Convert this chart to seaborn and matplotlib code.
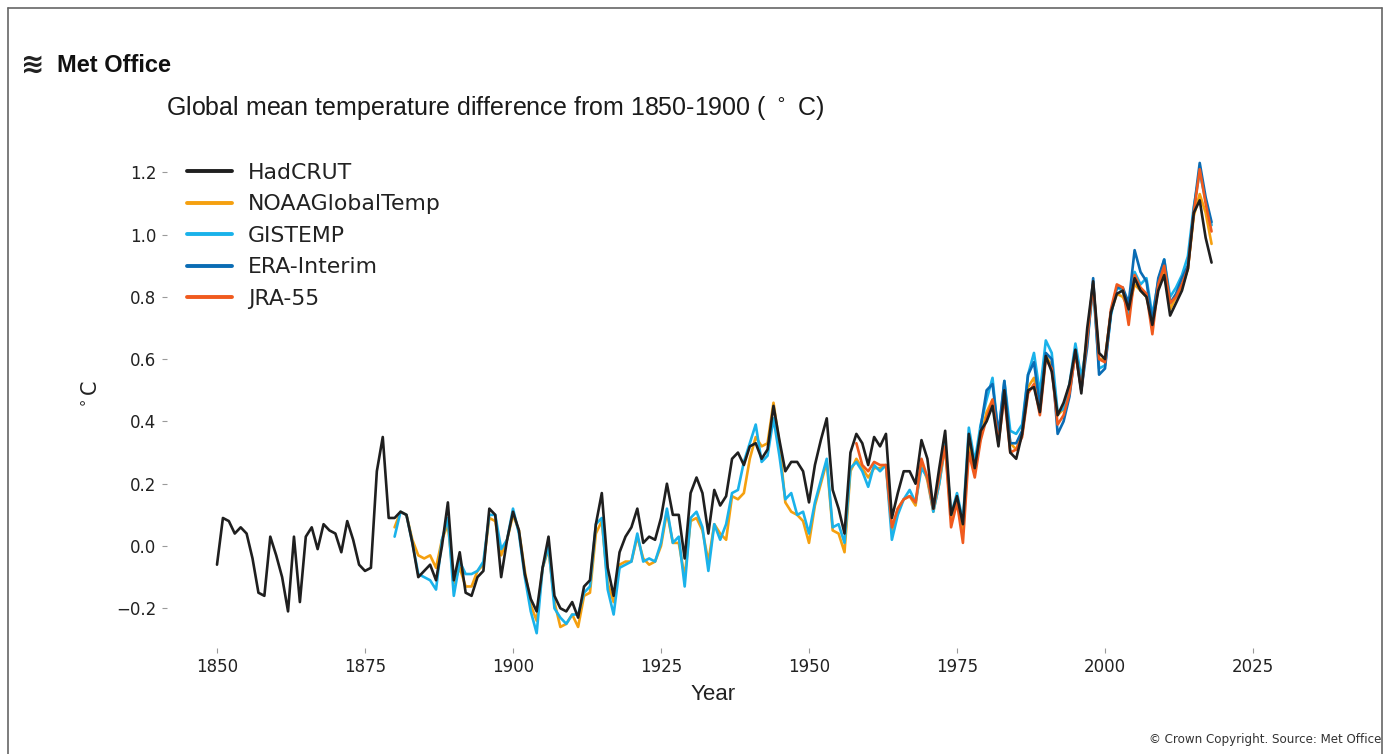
import numpy as np
import pandas as pd
import matplotlib
matplotlib.use("Agg")
import matplotlib.pyplot as plt
import seaborn as sns
from matplotlib.lines import Line2D

# ---------------- data (anomaly vs 1850-1900, deg C) ----------------
series_names = ["HadCRUT", "NOAAGlobalTemp", "GISTEMP", "ERA-Interim", "JRA-55"]
series_colors = ["#1f1f1f", "#f5a00f", "#1ab2ea", "#0a6cb4", "#f05a1e"]

hadcrut_years = list(range(1850, 2019))
hadcrut = [-0.06, 0.09, 0.08, 0.04, 0.06, 0.04, -0.04, -0.15, -0.16, 0.03,
           -0.03, -0.10, -0.21, 0.03, -0.18, 0.03, 0.06, -0.01, 0.07, 0.05,
           0.04, -0.02, 0.08, 0.02, -0.06, -0.08, -0.07, 0.24, 0.35, 0.09,
           0.09, 0.11, 0.10, 0.01, -0.10, -0.08, -0.06, -0.11, 0.00, 0.14,
           -0.11, -0.02, -0.15, -0.16, -0.10, -0.08, 0.12, 0.10, -0.10, 0.02,
           0.11, 0.05, -0.09, -0.17, -0.21, -0.07, 0.03, -0.16, -0.20, -0.21,
           -0.18, -0.23, -0.13, -0.11, 0.07, 0.17, -0.07, -0.16, -0.02, 0.03,
           0.06, 0.12, 0.01, 0.03, 0.02, 0.09, 0.20, 0.10, 0.10, -0.04,
           0.17, 0.22, 0.17, 0.04, 0.18, 0.13, 0.16, 0.28, 0.30, 0.26,
           0.32, 0.33, 0.28, 0.31, 0.45, 0.34, 0.24, 0.27, 0.27, 0.24,
           0.14, 0.26, 0.34, 0.41, 0.18, 0.12, 0.04, 0.30, 0.36, 0.33,
           0.26, 0.35, 0.32, 0.36, 0.09, 0.17, 0.24, 0.24, 0.20, 0.34,
           0.28, 0.12, 0.25, 0.37, 0.10, 0.16, 0.07, 0.36, 0.25, 0.37,
           0.40, 0.45, 0.32, 0.50, 0.30, 0.28, 0.36, 0.50, 0.51, 0.43,
           0.61, 0.56, 0.42, 0.46, 0.52, 0.63, 0.49, 0.70, 0.85, 0.62,
           0.60, 0.75, 0.81, 0.82, 0.76, 0.86, 0.82, 0.80, 0.71, 0.82,
           0.87, 0.74, 0.78, 0.82, 0.89, 1.07, 1.11, 0.99, 0.91]

noaa_years = list(range(1880, 2019))
noaa = [0.06, 0.11, 0.10, 0.02, -0.03, -0.04, -0.03, -0.07, 0.02, 0.07,
        -0.12, -0.07, -0.13, -0.13, -0.08, -0.06, 0.09, 0.08, -0.03, 0.02,
        0.10, 0.05, -0.08, -0.19, -0.24, -0.07, -0.01, -0.18, -0.26, -0.25,
        -0.22, -0.26, -0.16, -0.15, 0.04, 0.08, -0.12, -0.18, -0.06, -0.05,
        -0.05, 0.03, -0.04, -0.06, -0.05, 0.00, 0.11, 0.01, 0.01, -0.10,
        0.08, 0.09, 0.05, -0.05, 0.07, 0.04, 0.02, 0.16, 0.15, 0.17,
        0.28, 0.35, 0.32, 0.33, 0.46, 0.33, 0.14, 0.11, 0.10, 0.08,
        0.01, 0.13, 0.20, 0.27, 0.05, 0.04, -0.02, 0.24, 0.28, 0.25,
        0.22, 0.25, 0.25, 0.26, 0.05, 0.12, 0.15, 0.16, 0.13, 0.27,
        0.21, 0.11, 0.20, 0.32, 0.09, 0.15, 0.05, 0.32, 0.24, 0.35,
        0.43, 0.47, 0.35, 0.50, 0.33, 0.31, 0.36, 0.51, 0.54, 0.44,
        0.61, 0.58, 0.42, 0.44, 0.51, 0.63, 0.51, 0.68, 0.84, 0.60,
        0.60, 0.75, 0.81, 0.80, 0.76, 0.84, 0.82, 0.80, 0.73, 0.83,
        0.88, 0.76, 0.80, 0.83, 0.89, 1.06, 1.13, 1.07, 0.97]

gistemp_years = list(range(1880, 2019))
gistemp = [0.03, 0.11, 0.10, 0.01, -0.09, -0.10, -0.11, -0.14, 0.02, 0.09,
           -0.16, -0.05, -0.09, -0.09, -0.08, -0.05, 0.10, 0.10, -0.01, 0.02,
           0.12, 0.04, -0.10, -0.21, -0.28, -0.07, 0.00, -0.20, -0.23, -0.25,
           -0.22, -0.22, -0.15, -0.13, 0.07, 0.09, -0.14, -0.22, -0.07, -0.06,
           -0.05, 0.04, -0.05, -0.04, -0.05, 0.01, 0.12, 0.01, 0.03, -0.13,
           0.09, 0.11, 0.06, -0.08, 0.07, 0.02, 0.07, 0.17, 0.18, 0.27,
           0.33, 0.39, 0.27, 0.29, 0.41, 0.29, 0.15, 0.17, 0.10, 0.11,
           0.04, 0.14, 0.21, 0.28, 0.06, 0.07, 0.01, 0.25, 0.27, 0.24,
           0.19, 0.26, 0.24, 0.26, 0.02, 0.10, 0.15, 0.18, 0.14, 0.25,
           0.22, 0.11, 0.20, 0.33, 0.10, 0.17, 0.08, 0.38, 0.27, 0.39,
           0.47, 0.54, 0.35, 0.53, 0.37, 0.36, 0.39, 0.55, 0.62, 0.49,
           0.66, 0.62, 0.43, 0.44, 0.52, 0.65, 0.54, 0.66, 0.83, 0.57,
           0.58, 0.74, 0.83, 0.82, 0.74, 0.88, 0.84, 0.86, 0.74, 0.85,
           0.92, 0.80, 0.83, 0.87, 0.93, 1.09, 1.20, 1.11, 1.03]

era_years = list(range(1979, 2019))
era_interim = [0.38, 0.50, 0.52, 0.36, 0.53, 0.33, 0.33, 0.37, 0.55, 0.59,
               0.45, 0.62, 0.60, 0.36, 0.40, 0.48, 0.63, 0.50, 0.64, 0.86,
               0.55, 0.57, 0.75, 0.83, 0.83, 0.78, 0.95, 0.88, 0.85, 0.72,
               0.86, 0.92, 0.78, 0.81, 0.86, 0.90, 1.08, 1.23, 1.12, 1.04]

jra_years = list(range(1958, 2019))
jra55 = [0.33, 0.26, 0.24, 0.27, 0.26, 0.26, 0.06, 0.12, 0.15, 0.16,
         0.14, 0.28, 0.22, 0.12, 0.22, 0.32, 0.06, 0.14, 0.01, 0.30,
         0.22, 0.34, 0.41, 0.47, 0.33, 0.48, 0.30, 0.31, 0.35, 0.49,
         0.52, 0.42, 0.60, 0.57, 0.39, 0.42, 0.49, 0.62, 0.50, 0.67,
         0.84, 0.60, 0.59, 0.76, 0.84, 0.83, 0.71, 0.87, 0.83, 0.81,
         0.68, 0.84, 0.90, 0.78, 0.80, 0.84, 0.89, 1.07, 1.21, 1.10,
         1.01]

x_ticks = [1850, 1875, 1900, 1925, 1950, 1975, 2000, 2025]
y_ticks = [-0.2, 0.0, 0.2, 0.4, 0.6, 0.8, 1.0, 1.2]

title_text = "Global mean temperature difference from 1850-1900 ( $^\\circ$ C)"
xlabel_text = "Year"
ylabel_text = "$^\\circ$C"
logo_text = "Met Office"
credit_text = "\u00a9 Crown Copyright. Source: Met Office"

# ---------------- long-form table ----------------
frames = []
for name, yrs, vals in [("HadCRUT", hadcrut_years, hadcrut),
                        ("NOAAGlobalTemp", noaa_years, noaa),
                        ("GISTEMP", gistemp_years, gistemp),
                        ("ERA-Interim", era_years, era_interim),
                        ("JRA-55", jra_years, jra55)]:
    frames.append(pd.DataFrame({"year": yrs, "value": vals, "dataset": name}))
df = pd.concat(frames, ignore_index=True)

# ---------------- figure ----------------
sns.set_theme(style="white")
plt.rcParams['font.family'] = ['DejaVu Sans']

W, H = 1389, 754
fig = plt.figure(figsize=(W / 100, H / 100), dpi=100)
fig.patch.set_facecolor("white")


def fx(px):
    return px / W


def fy(py):
    return 1 - py / H


ax_l, ax_r, ax_t, ax_b = 167, 1290, 150, 648
ax = fig.add_axes([fx(ax_l), fy(ax_b), fx(ax_r) - fx(ax_l), fy(ax_t) - fy(ax_b)])

sns.lineplot(data=df, x="year", y="value", hue="dataset",
             hue_order=series_names, palette=series_colors,
             estimator=None, linewidth=1.9, ax=ax)

# HadCRUT drawn on top
ax.lines[0].set_zorder(5)

# axis scales from pixel geometry
px_per_year = (1253 - 217) / 175.0
x0 = 1850 - (217 - ax_l) / px_per_year
x1 = 2025 + (ax_r - 1253) / px_per_year
ax.set_xlim(x0, x1)
px_per_unit = (608 - 172) / 1.4
y_zero = 546
ax.set_ylim((y_zero - ax_b) / px_per_unit, (y_zero - ax_t) / px_per_unit)

ax.set_xticks(x_ticks)
ax.set_yticks(y_ticks)
ax.tick_params(axis="both", which="major", left=True, bottom=True,
               length=3.5, width=0.8, color="#9a9a9a", labelsize=12,
               labelcolor="#222222", pad=4)
sns.despine(ax=ax, left=True, bottom=True, top=True, right=True)

ax.set_xlabel(xlabel_text, fontsize=16, family="Liberation Sans", color="#222222")
ax.xaxis.set_label_coords((713 - ax_l) / (ax_r - ax_l), -(695 - ax_b) / (ax_b - ax_t))
ax.xaxis.label.set_va("center")
ax.set_ylabel(ylabel_text, fontsize=15, color="#222222")
ax.yaxis.set_label_coords(-(ax_l - 91) / (ax_r - ax_l), (ax_b - 395) / (ax_b - ax_t))
ax.yaxis.label.set_va("center")

# legend
handles, labels = ax.get_legend_handles_labels()
if ax.get_legend() is not None:
    ax.get_legend().remove()
for h in handles:
    h.set_linewidth(2.8)
leg = ax.legend(handles, labels, loc="upper left",
                bbox_to_anchor=(fx(187), fy(163)), bbox_transform=fig.transFigure,
                frameon=False, fontsize=15.8, handlelength=2.05, handletextpad=0.72,
                labelspacing=0.52, borderpad=0, borderaxespad=0)
for t in leg.get_texts():
    t.set_color("#222222")

# title, logo, credit
fig.text(fx(166), fy(108), title_text, fontsize=18, family="Liberation Sans",
         color="#1a1a1a", va="center", ha="left")
fig.text(fx(21), fy(65), "\u224b", fontsize=20, fontweight="bold",
         color="#222222", va="center", ha="left")
fig.text(fx(57), fy(65), logo_text, fontsize=17, fontweight="bold",
         family=["Liberation Sans Narrow", "Liberation Sans"],
         color="#111111", va="center", ha="left")
fig.text(fx(1381), fy(739), credit_text, fontsize=8.6, color="#333333",
         ha="right", va="center")

# outer frame
frame_col = "#666666"
fig.add_artist(Line2D([fx(8), fx(8)], [fy(8), 0], transform=fig.transFigure,
                      color=frame_col, lw=1.2))
fig.add_artist(Line2D([fx(8), fx(1382)], [fy(8), fy(8)], transform=fig.transFigure,
                      color=frame_col, lw=1.2))
fig.add_artist(Line2D([fx(1382), fx(1382)], [fy(8), 0], transform=fig.transFigure,
                      color=frame_col, lw=1.2))

fig.savefig("out.png", dpi=100)
